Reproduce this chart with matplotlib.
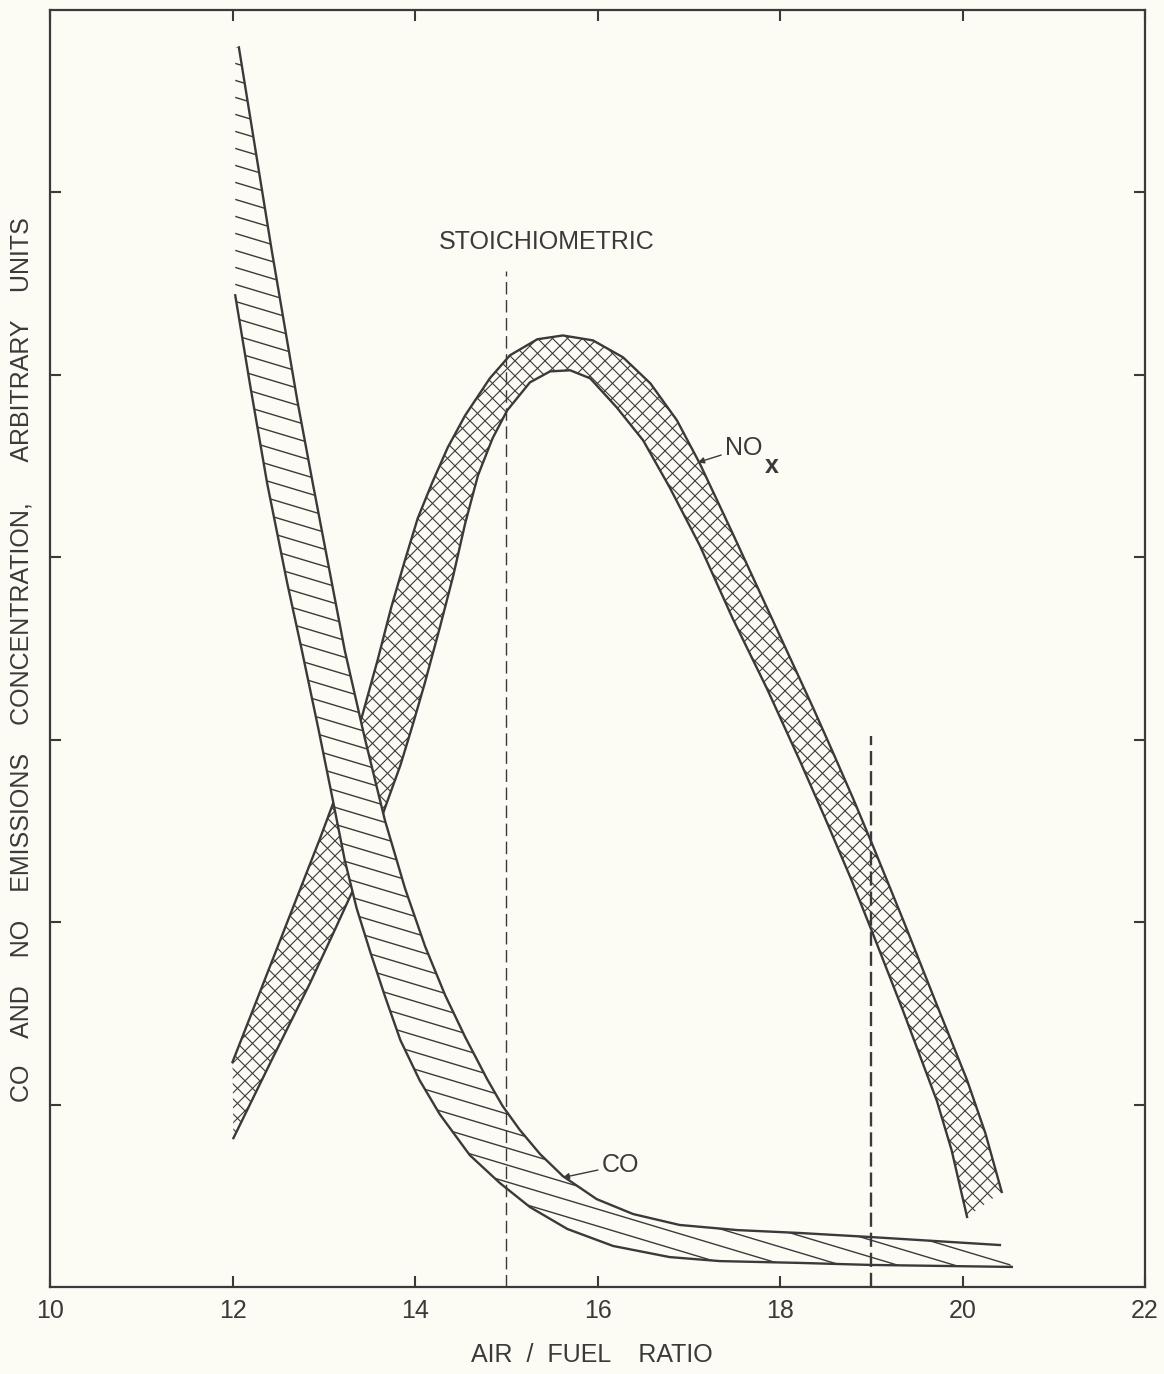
import numpy as np
import matplotlib
matplotlib.use("Agg")
import matplotlib.pyplot as plt
from matplotlib.collections import LineCollection

# ---------------- data (air/fuel ratio, arbitrary concentration units) ----------------
nox_upper_x = [12.00, 12.30, 12.63, 12.96, 13.23, 13.42, 13.59, 13.74, 13.89, 14.03, 14.19,
               14.36, 14.55, 14.82, 15.04, 15.34, 15.62, 15.95, 16.28, 16.58, 16.87, 17.12,
               17.48, 17.92, 18.36, 18.57, 18.80, 19.02, 19.35, 19.72, 20.05, 20.25, 20.43]
nox_upper_y = [1.233, 1.616, 2.038, 2.460, 2.822, 3.129, 3.436, 3.726, 3.984, 4.214, 4.411,
               4.603, 4.778, 4.981, 5.107, 5.195, 5.216, 5.189, 5.096, 4.953, 4.751, 4.515,
               4.132, 3.655, 3.178, 2.942, 2.679, 2.416, 2.011, 1.545, 1.134, 0.844, 0.521]

nox_lower_x = [12.01, 12.44, 12.85, 13.12, 13.32, 13.51, 13.67, 13.84, 13.98, 14.11, 14.27,
               14.42, 14.55, 14.69, 14.85, 15.01, 15.26, 15.48, 15.70, 15.92, 16.21, 16.50,
               16.79, 17.12, 17.48, 17.86, 18.22, 18.49, 18.77, 19.02, 19.35, 19.72, 19.88,
               20.05]
nox_lower_y = [0.816, 1.255, 1.666, 1.956, 2.175, 2.395, 2.625, 2.860, 3.090, 3.315, 3.611,
               3.901, 4.186, 4.449, 4.652, 4.805, 4.959, 5.019, 5.025, 4.981, 4.822, 4.641,
               4.384, 4.066, 3.666, 3.277, 2.882, 2.575, 2.247, 1.934, 1.512, 1.019, 0.751,
               0.384]

co_upper_x = [12.07, 12.43, 12.71, 12.88, 13.23, 13.45, 13.67, 13.89, 14.11, 14.33, 14.55,
              14.79, 14.96, 15.15, 15.37, 15.62, 15.99, 16.39, 16.90, 17.53, 18.22, 18.99,
              20.41]
co_upper_y = [6.795, 5.682, 4.860, 4.405, 3.490, 3.008, 2.559, 2.186, 1.868, 1.600, 1.370,
              1.140, 0.992, 0.860, 0.729, 0.608, 0.482, 0.400, 0.340, 0.312, 0.296, 0.274,
              0.230]

co_lower_x = [12.03, 12.19, 12.38, 12.60, 12.76, 12.94, 13.10, 13.23, 13.36, 13.51, 13.67,
              13.84, 14.05, 14.27, 14.60, 14.93, 15.26, 15.67, 16.17, 16.79, 17.34, 18.22,
              18.99, 20.54]
co_lower_y = [5.436, 4.953, 4.405, 3.858, 3.490, 3.063, 2.668, 2.340, 2.077, 1.836, 1.595,
              1.353, 1.134, 0.948, 0.723, 0.570, 0.438, 0.318, 0.225, 0.164, 0.142, 0.132,
              0.121, 0.110]

stoich_afr = 15.0
stoich_line_top = 5.57
lean_afr = 19.0
lean_line_top = 3.02

x_ticks = [10, 12, 14, 16, 18, 20, 22]
x_tick_labels = ["10", "12", "14", "16", "18", "20", "22"]
y_ticks = [1, 2, 3, 4, 5, 6]

# ---------------- style ----------------
BG = "#fcfbf4"
INK = "#3a3a3a"
FONT = ["Liberation Sans", "DejaVu Sans"]
plt.rcParams["font.family"] = FONT

fig = plt.figure(figsize=(11.64, 13.74), dpi=100, facecolor=BG)
ax = fig.add_axes([50 / 1164, 1 - 1287 / 1374, 1095 / 1164, 1277 / 1374], facecolor=BG)
ax.set_xlim(10, 22)
ax.set_ylim(0, 7)


def hatch(ax, clip_patch, slope_px, spacing_px, lw=0.8, z=2.1):
    W, H = ax.bbox.width, ax.bbox.height
    k = slope_px * W / H
    lo = min(0.0, -k) - 0.05
    hi = max(1.0, 1.0 - k) + 0.05
    cs = np.arange(lo, hi, spacing_px / H)
    segs = [[(0.0, c), (1.0, c + k)] for c in cs]
    lc = LineCollection(segs, transform=ax.transAxes, colors=INK, linewidths=lw, zorder=z)
    ax.add_collection(lc)
    lc.set_clip_path(clip_patch)
    return lc


# NOx band
nx = np.concatenate([nox_upper_x, nox_lower_x[::-1]])
ny = np.concatenate([nox_upper_y, nox_lower_y[::-1]])
nox_patch = ax.fill(nx, ny, facecolor=BG, edgecolor="none", zorder=2)[0]
hatch(ax, nox_patch, 1.0, 15, lw=0.8, z=2.1)
hatch(ax, nox_patch, -1.0, 15, lw=0.8, z=2.1)
ax.plot(nox_upper_x, nox_upper_y, color=INK, lw=1.7, zorder=2.5, solid_joinstyle="round")
ax.plot(nox_lower_x, nox_lower_y, color=INK, lw=1.7, zorder=2.5, solid_joinstyle="round")

# CO band (drawn over NOx)
cx = np.concatenate([co_upper_x, co_lower_x[::-1], [co_lower_x[0]]])
cy = np.concatenate([co_upper_y, co_lower_y[::-1], [co_upper_y[0]]])
co_patch = ax.fill(cx, cy, facecolor=BG, edgecolor="none", zorder=3)[0]
hatch(ax, co_patch, -0.3, 17, lw=1.0, z=3.1)
ax.plot(co_upper_x, co_upper_y, color=INK, lw=1.7, zorder=3.2, solid_joinstyle="round")
ax.plot(co_lower_x, co_lower_y, color=INK, lw=1.7, zorder=3.2, solid_joinstyle="round")

# vertical dashed lines
ax.plot([stoich_afr, stoich_afr], [0, stoich_line_top], color=INK, lw=1.0,
        dashes=(9, 4), zorder=4)
ax.plot([lean_afr, lean_afr], [0, lean_line_top], color=INK, lw=1.7,
        dashes=(6, 2.5), zorder=4)

# annotations
ax.text(15.44, 5.73, "STOICHIOMETRIC", ha="center", va="center", fontsize=18, color=INK)
ax.annotate("CO", xy=(15.62, 0.60), xytext=(16.05, 0.668), ha="left", va="center",
            fontsize=18, color=INK, zorder=5,
            arrowprops=dict(arrowstyle="-|>", color=INK, lw=1.0, mutation_scale=9,
                            shrinkA=1, shrinkB=0))
ax.annotate("NO", xy=(17.10, 4.52), xytext=(17.40, 4.60), ha="left", va="center",
            fontsize=18, color=INK, zorder=5,
            arrowprops=dict(arrowstyle="-|>", color=INK, lw=1.0, mutation_scale=9,
                            shrinkA=1, shrinkB=0))
ax.text(17.83, 4.50, "x", ha="left", va="center", fontsize=18, fontweight="bold",
        color=INK)

# axes styling
for s in ax.spines.values():
    s.set_linewidth(1.6)
    s.set_color(INK)
ax.set_xticks(x_ticks)
ax.set_xticklabels(x_tick_labels)
ax.set_yticks(y_ticks)
ax.set_yticklabels([])
ax.tick_params(axis="both", direction="in", length=8, width=1.5, color=INK,
               labelsize=18, labelcolor=INK, pad=9, top=True, right=True)

fig.text(592 / 1164, 1 - 1355 / 1374, "AIR  /  FUEL    RATIO", ha="center", va="center",
         fontsize=18, color=INK)
fig.text(22 / 1164, 1 - 660 / 1374,
         "CO    AND    NO    EMISSIONS    CONCENTRATION,      ARBITRARY    UNITS",
         rotation=90, ha="center", va="center", fontsize=18, color=INK)

fig.savefig("out.png", dpi=100, facecolor=BG)
